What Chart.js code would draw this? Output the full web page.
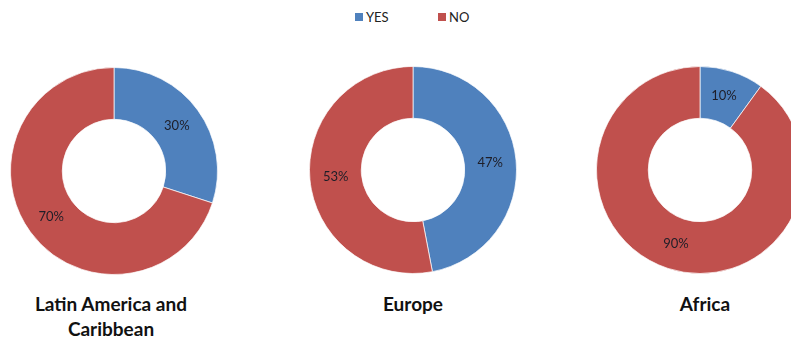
<!DOCTYPE html>
<html>
<head>
<meta charset="utf-8">
<script src="https://cdn.jsdelivr.net/npm/chart.js@4/dist/chart.umd.min.js"></script>
<style>
  html, body { margin: 0; padding: 0; background: #fff; }
  body { width: 791px; height: 339px; position: relative; overflow: hidden; font-family: Lato, "Open Sans", sans-serif; }
  .ring { position: absolute; }
  .title { position: absolute; font-weight: bold; font-size: 19px; color: #111; text-align: center; line-height: 25px; white-space: nowrap; transform: translateX(-50%); }
  .legend { position: absolute; top: 9px; font-size: 13px; color: #222; display: flex; align-items: center; }
  .legend span.box { display: inline-block; width: 8px; height: 8px; margin-right: 3px; }
</style>
</head>
<body>
<div class="legend" style="left:355px"><span class="box" id="lb0"></span><span id="lt0"></span></div>
<div class="legend" style="left:438px"><span class="box" id="lb1"></span><span id="lt1"></span></div>

<canvas id="c0" class="ring" width="208" height="208"></canvas>
<canvas id="c1" class="ring" width="208" height="208"></canvas>
<canvas id="c2" class="ring" width="208" height="208"></canvas>
<div id="t0" class="title"></div>
<div id="t1" class="title"></div>
<div id="t2" class="title"></div>

<script>
// ---- data ----
const seriesLabels = ["YES", "NO"];
const seriesColors = ["#4F81BD", "#C0504D"];
const regions = ["Latin America and|Caribbean", "Europe", "Africa"];
const latinAmerica = [30, 70];
const europe = [47, 53];
const africa = [10, 90];
const regionValues = [latinAmerica, europe, africa];

// ---- layout (pixel centers of each ring) ----
const centers = [[113.5, 171], [412.5, 170], [700, 170]];
const titleCenters = [111, 413, 705];

seriesLabels.forEach((s, i) => {
  document.getElementById('lb' + i).style.background = seriesColors[i];
  document.getElementById('lt' + i).textContent = s;
});

const labelPlugin = {
  id: 'ringLabels',
  afterDatasetsDraw(chart) {
    const ctx = chart.ctx;
    const meta = chart.getDatasetMeta(0);
    const data = chart.data.datasets[0].data;
    ctx.save();
    ctx.font = '13px Lato, "Open Sans", sans-serif';
    ctx.fillStyle = '#1e1e28';
    ctx.textAlign = 'center';
    ctx.textBaseline = 'middle';
    meta.data.forEach((arc, i) => {
      const p = arc.getProps(['x', 'y', 'startAngle', 'endAngle', 'innerRadius', 'outerRadius'], true);
      const a = (p.startAngle + p.endAngle) / 2;
      const r = (p.innerRadius + p.outerRadius) / 2;
      ctx.fillText(data[i] + '%', p.x + Math.cos(a) * r, p.y + Math.sin(a) * r);
    });
    ctx.restore();
  }
};

regionValues.forEach((vals, k) => {
  const cv = document.getElementById('c' + k);
  cv.style.left = (centers[k][0] - 104) + 'px';
  cv.style.top = (centers[k][1] - 104) + 'px';
  new Chart(cv, {
    type: 'doughnut',
    data: {
      labels: seriesLabels,
      datasets: [{
        data: vals,
        backgroundColor: seriesColors,
        borderColor: 'rgba(255,255,255,0.7)',
        borderWidth: 1,
        hoverOffset: 0,
        offset: 0
      }]
    },
    options: {
      responsive: false,
      animation: false,
      cutout: '50%',
      layout: { padding: 0 },
      plugins: { legend: { display: false }, tooltip: { enabled: false } }
    },
    plugins: [labelPlugin]
  });
  const t = document.getElementById('t' + k);
  t.style.left = titleCenters[k] + 'px';
  t.style.top = '291px';
  regions[k].split('|').forEach((line, j) => {
    if (j) t.appendChild(document.createElement('br'));
    t.appendChild(document.createTextNode(line));
  });
});
</script>
</body>
</html>
